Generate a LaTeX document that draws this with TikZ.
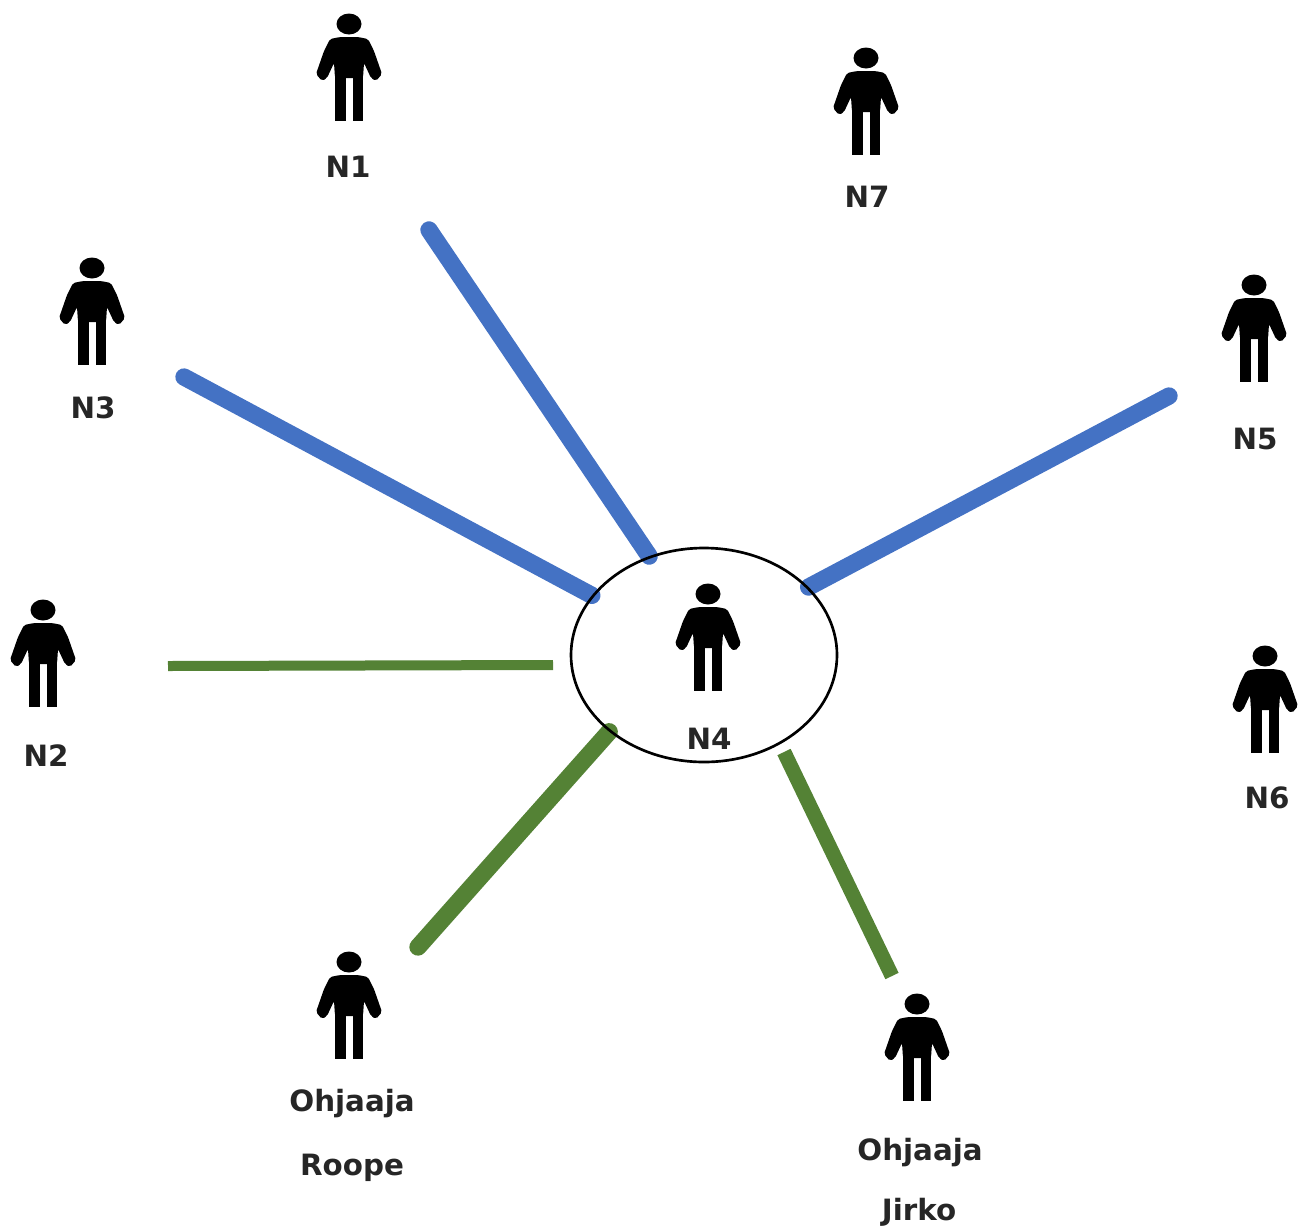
\documentclass[tikz,border=0pt]{standalone}
\usepackage{fontspec}
\setmainfont{DejaVu Sans}
\usetikzlibrary{shapes.geometric,backgrounds}
\definecolor{tieblue}{RGB}{68,114,196}
\definecolor{tiegreen}{RGB}{84,130,53}
\tikzset{every picture/.style={line width=0.75pt}}
\tikzset{
	person/.pic={
		\fill (0,0) ellipse [x radius=12.5,y radius=10.5];
		\fill [rounded corners=1.5] (-9,13) -- (9,13) -- (19,15) -- (25,27) -- (33,50) -- (27,57) -- (22,54) -- (15,39)
			-- (14,54) -- (-14,54) -- (-15,39)
			-- (-22,54) -- (-27,57) -- (-33,50) -- (-25,27) -- (-19,15) -- cycle;
		\fill (-14,50) rectangle (-3.5,97);
		\fill (3.5,50) rectangle (14,97);
	},
	namelabel/.style={font=\bfseries\fontsize{22}{22}\selectfont,text=black!85,inner sep=0.75pt},
	bluetie/.style={draw=tieblue,line width=13pt,line cap=round},
	greentie/.style={draw=tiegreen,line width=11pt},
}
\begin{document}
\begin{tikzpicture}[x=0.75pt,y=-0.75pt]
	\useasboundingbox (0,0) rectangle (1298,1228);
	
	%Shape: Ellipse
	\node (hub) [draw,ellipse,line width=2pt,minimum width=199.5pt,minimum height=160.5pt,inner sep=0pt] at (704,655) {};
	
	%Persons
	\pic at (349,24) {person};
	\pic at (866,58) {person};
	\pic at (92,268) {person};
	\pic at (1254,285) {person};
	\pic at (43,610) {person};
	\pic at (1265,656) {person};
	\pic at (708,594) {person};
	\pic at (349,962) {person};
	\pic at (917,1004) {person};
	
	% Text Node
	\node (n1) [namelabel] at (348,167) {N1};
	\node (n7) [namelabel] at (867,197) {N7};
	\node (n3) [namelabel] at (93,408) {N3};
	\node (n5) [namelabel] at (1255,439) {N5};
	\node (n2) [namelabel] at (46,756) {N2};
	\node (n6) [namelabel] at (1267,798) {N6};
	\node (n4) [namelabel] at (709,739) {N4};
	\node (roopea) [namelabel] at (352,1104) {Ohjaaja};
	\node (roopeb) [namelabel] at (352,1168) {Roope};
	\node (jirkoa) [namelabel] at (920,1153) {Ohjaaja};
	\node (jirkob) [namelabel] at (919,1212) {Jirko};
	
	%Free ends
	\coordinate (endn1) at (429,230);
	\coordinate (endn3) at (184,377);
	\coordinate (endn5) at (1169,396);
	\coordinate (endn2) at (168,666);
	\coordinate (hubn2) at (553,665);
	\coordinate (endroope) at (418,947);
	\coordinate (endjirko) at (892,976);
	\coordinate (hubjirko) at (784,752);
	
	%Straight Lines
	\begin{scope}[on background layer]
		\draw [bluetie] (hub.119) -- (endn1);
		\draw [bluetie] (hub.152) -- (endn3);
		\draw [bluetie] (hub.33) -- (endn5);
		\draw [greentie,line width=7.5pt] (hubn2) -- (endn2);
		\draw [greentie,line cap=round,line width=13pt] (hub.219) -- (endroope);
		\draw [greentie] (hubjirko) -- (endjirko);
	\end{scope}
\end{tikzpicture}
\end{document}
